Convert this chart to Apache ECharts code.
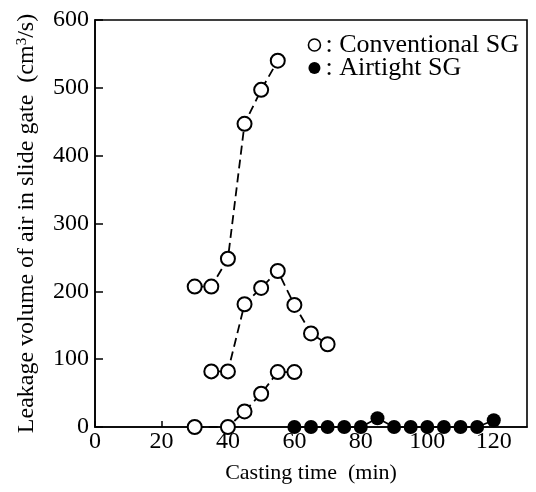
<!DOCTYPE html>
<html lang="en">
<head>
    <meta charset="utf-8"/>
    <title>Leakage volume of air in slide gate</title>
    <script src="https://cdn.jsdelivr.net/npm/echarts@6/dist/echarts.min.js"></script>
</head>
<body style="margin:0;background:#fff">
<div id="chart" style="width:536px;height:492px;"></div>
<script type="text/javascript">
    // casting time (min) and leakage volume (cm3/s)
    var convTimeA = [30, 35, 40, 45, 50, 55];
    var convLeakA = [207, 207, 248, 447, 497, 540];
    var convTimeB = [35, 40, 45, 50, 55, 60, 65, 70];
    var convLeakB = [82, 82, 181, 205, 230, 180, 138, 122];
    var convTimeC = [30, 40, 45, 50, 55, 60];
    var convLeakC = [0, 0, 23, 49, 81, 81];
    var airTime = [60, 65, 70, 75, 80, 85, 90, 95, 100, 105, 110, 115, 120];
    var airLeak = [0, 0, 0, 0, 0, 13, 0, 0, 0, 0, 0, 0, 10];
    var xTicks = [0, 20, 40, 60, 80, 100, 120];
    var yTicks = [0, 100, 200, 300, 400, 500, 600];

    var font = '"Liberation Serif", "DejaVu Serif", serif';

    function pairs(xs, ys) {
        var out = [];
        for (var i = 0; i < xs.length; i++) {
            out.push([xs[i], ys[i]]);
        }
        return out;
    }

    // open circles joined by a dashed line
    function conventional(xs, ys) {
        return {
            name: 'Conventional SG',
            type: 'line',
            data: pairs(xs, ys),
            symbol: 'circle',
            symbolSize: 14,
            clip: false,
            lineStyle: {color: '#000', width: 1.8, type: [9, 5]},
            itemStyle: {color: '#fff', borderColor: '#000', borderWidth: 2},
            z: 3
        };
    }

    var myChart = echarts.init(document.getElementById('chart'));
    var option = {
        backgroundColor: '#fff',
        animation: false,
        textStyle: {fontFamily: font, color: '#000'},
        grid: {
            left: 95, right: 9, top: 20, bottom: 65,
            show: true, borderColor: '#000', borderWidth: 1.6
        },
        legend: {
            orient: 'vertical',
            right: 12,
            top: 27,
            itemGap: -3,
            itemWidth: 12,
            itemHeight: 12,
            formatter: ': {name}',
            textStyle: {fontFamily: font, fontSize: 26, color: '#000'},
            data: [
                {name: 'Conventional SG', icon: 'circle',
                    itemStyle: {color: '#fff', borderColor: '#000', borderWidth: 1.6}},
                {name: 'Airtight SG', icon: 'circle',
                    itemStyle: {color: '#000', borderColor: '#000', borderWidth: 0}}
            ]
        },
        xAxis: {
            type: 'value',
            min: xTicks[0],
            max: 130,
            interval: xTicks[1] - xTicks[0],
            name: 'Casting time  (min)',
            nameLocation: 'middle',
            nameGap: 35,
            nameTextStyle: {fontFamily: font, fontSize: 22, color: '#000'},
            axisLine: {show: true, lineStyle: {color: '#000', width: 1.6}},
            axisTick: {show: true, inside: true, length: 6, lineStyle: {color: '#000', width: 1.5}},
            axisLabel: {
                showMaxLabel: false,
                margin: 3,
                fontFamily: font, fontSize: 24, color: '#000'
            },
            splitLine: {show: false}
        },
        yAxis: {
            type: 'value',
            min: yTicks[0],
            max: yTicks[yTicks.length - 1],
            interval: yTicks[1] - yTicks[0],
            name: 'Leakage volume of air in slide gate  (cm{sup|3}/s)',
            nameLocation: 'middle',
            nameGap: 56,
            nameTextStyle: {
                fontFamily: font, fontSize: 24, color: '#000',
                rich: {sup: {fontFamily: font, fontSize: 15, verticalAlign: 'top', color: '#000', padding: [0, 0, 9, 0]}}
            },
            axisLine: {show: true, lineStyle: {color: '#000', width: 1.6}},
            axisTick: {show: true, inside: true, length: 8, lineStyle: {color: '#000', width: 1.5}},
            axisLabel: {margin: 6, fontFamily: font, fontSize: 24, color: '#000'},
            splitLine: {show: false}
        },
        series: [
            conventional(convTimeA, convLeakA),
            conventional(convTimeB, convLeakB),
            conventional(convTimeC, convLeakC),
            {
                name: 'Airtight SG',
                type: 'line',
                data: pairs(airTime, airLeak),
                symbol: 'circle',
                symbolSize: 14,
                clip: false,
                lineStyle: {color: '#000', width: 1.8},
                itemStyle: {color: '#000'},
                z: 4
            }
        ]
    };
    myChart.setOption(option);
</script>
</body>
</html>
